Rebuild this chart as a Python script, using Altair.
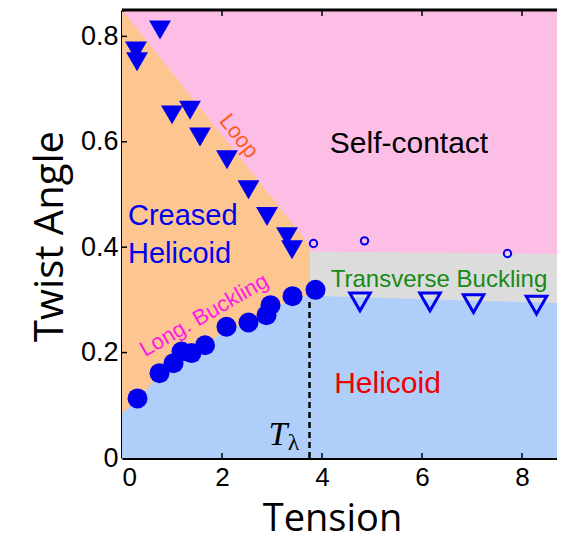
import altair as alt
import pandas as pd

# ---------------- data ----------------
# filled down-triangles
tri_x = [0.76, 0.28, 0.30, 1.00, 1.36, 1.56, 2.10, 2.53, 2.90, 3.30, 3.40]
tri_y = [0.812, 0.772, 0.752, 0.651, 0.660, 0.609, 0.566, 0.509, 0.458, 0.420, 0.395]
# filled circles
circ_x = [0.31, 0.75, 1.03, 1.19, 1.39, 1.66, 2.09, 2.53, 2.89, 2.97, 3.41, 3.87]
circ_y = [0.113, 0.161, 0.180, 0.202, 0.199, 0.214, 0.249, 0.257, 0.271, 0.290, 0.307, 0.319]
# open down-triangles
otri_x = [4.76, 6.16, 7.03, 8.29]
otri_y = [0.296, 0.296, 0.293, 0.290]
# open small circles
ocirc_x = [3.83, 4.85, 7.71]
ocirc_y = [0.407, 0.412, 0.388]

X_MAX = 8.7
Y_MAX = 0.85

# phase-region boundaries
orange_x = [0.0, 3.58, 3.76]
orange_top = [0.85, 0.425, 0.400]
gray_x = [3.76, X_MAX]
gray_top = [0.392, 0.387]
blue_x = [0.0, 0.31, 0.75, 1.19, 1.66, 2.09, 2.53, 2.95, 3.41, 3.76, X_MAX]
blue_top = [0.085, 0.110, 0.158, 0.195, 0.212, 0.245, 0.255, 0.278, 0.303, 0.308, 0.294]

t_lambda = 3.75
t_lambda_top = 0.30

x_ticks = [0, 2, 4, 6, 8]
y_ticks = [0, 0.2, 0.4, 0.6, 0.8]

W, H = 435, 448
BLUE = "#0000ee"

xs = alt.Scale(domain=[0, X_MAX], nice=False, zero=False)
ys = alt.Scale(domain=[0, Y_MAX], nice=False, zero=False)

x_axis = alt.Axis(values=x_ticks, format="d", labelFont="Liberation Sans", labelFontSize=26,
                  labelColor="black", labelPadding=6, ticks=False, grid=False,
                  domainColor="black", domainWidth=3, title="Tension", titleFont="Open Sans",
                  titleFontSize=38, titleFontWeight="normal", titleColor="black",
                  titleX=210, titleY=72, titleBaseline="alphabetic", titleAlign="center")
y_axis = alt.Axis(values=y_ticks, labelExpr="datum.value == 0 ? '0' : format(datum.value, '.1f')",
                  labelFont="Liberation Sans", labelFontSize=27, labelColor="black",
                  labelPadding=4, ticks=False, grid=False, domainColor="black", domainWidth=3,
                  title="Twist Angle", titleFont="Open Sans", titleFontSize=40,
                  titleFontWeight="normal", titleColor="black", titleAngle=270,
                  titleX=-60, titleY=226, titleBaseline="alphabetic", titleAlign="center")

X = alt.X("x:Q", scale=xs, axis=x_axis)
Y = alt.Y("y:Q", scale=ys, axis=y_axis)


def area(xv, yv, color):
    df = pd.DataFrame({"x": xv, "y": yv})
    return alt.Chart(df).mark_area(color=color, opacity=1, interpolate="linear").encode(
        x=X, y=Y, y2=alt.datum(0))


orange = area(orange_x, orange_top, "#fdc590")
gray = area(gray_x, gray_top, "#dcdcdc")
blue = area(blue_x, blue_top, "#afcefa")

dash = alt.Chart(pd.DataFrame({"x": [t_lambda], "y": [0.0], "y2": [t_lambda_top]})).mark_rule(
    color="black", strokeWidth=2.5, strokeDash=[6, 4]).encode(x=X, y=Y, y2="y2:Q")


def pts(xv, yv, shape, size, filled, sw=0):
    df = pd.DataFrame({"x": xv, "y": yv})
    if filled:
        m = alt.Chart(df).mark_point(shape=shape, size=size, filled=True, color=BLUE, opacity=1)
    else:
        m = alt.Chart(df).mark_point(shape=shape, size=size, filled=False, color=BLUE,
                                     strokeWidth=sw, opacity=1)
    return m.encode(x=X, y=Y)


tri = pts(tri_x, tri_y, "triangle-down", 480, True)
circ = pts(circ_x, circ_y, "circle", 400, True)
otri = pts(otri_x, otri_y, "triangle-down", 420, False, 3)
ocirc = pts(ocirc_x, ocirc_y, "circle", 55, False, 2)


def label(txt, x, y, size, color, align="center", baseline="alphabetic", angle=0,
          font="Liberation Sans", style="normal"):
    df = pd.DataFrame({"x": [x], "y": [y], "t": [txt]})
    kw = dict(fontSize=size, color=color, align=align, baseline=baseline, font=font,
              fontStyle=style)
    if angle:
        kw["angle"] = angle
    return alt.Chart(df).mark_text(**kw).encode(x=X, y=Y, text="t:N")


texts = [
    label("Self-contact", 5.74, 0.579, 30, "black"),
    label("Creased", 0.12, 0.442, 29, BLUE, align="left"),
    label("Helicoid", 0.12, 0.370, 29, BLUE, align="left"),
    label("Helicoid", 5.31, 0.123, 30, "#ee0000"),
    label("Transverse Buckling", 6.34, 0.3245, 24, "#168a16"),
    label("Loop", 2.34, 0.611, 22, "#ff5a1e", baseline="middle", angle=52),
    label("Long. Buckling", 1.64, 0.271, 22, "#ff1ae6", baseline="middle", angle=330),
    label("T", 3.12, 0.025, 34, "black", font="Liberation Serif", style="italic"),
    label("λ", 3.43, 0.015, 24, "black", font="Liberation Serif"),
]

# frame: top border and inward ticks
top_line = alt.Chart(pd.DataFrame({"a": [0]})).mark_rule(color="black", strokeWidth=3).encode(
    x=alt.value(0), x2=alt.value(W), y=alt.value(0))
xt = pd.DataFrame({"x": x_ticks[1:]})
yt = pd.DataFrame({"y": y_ticks[1:]})
bottom_ticks = alt.Chart(xt).mark_rule(color="black", strokeWidth=1.5).encode(
    x=X, y=alt.value(H), y2=alt.value(H - 5))
top_ticks = alt.Chart(xt).mark_rule(color="black", strokeWidth=1.5).encode(
    x=X, y=alt.value(0), y2=alt.value(6))
left_ticks = alt.Chart(yt).mark_rule(color="black", strokeWidth=1.5).encode(
    y=Y, x=alt.value(0), x2=alt.value(5))

chart = alt.layer(
    orange, gray, blue, dash, tri, circ, otri, ocirc, *texts,
    top_line, bottom_ticks, top_ticks, left_ticks,
).properties(
    width=W, height=H,
    padding={"left": 114, "top": 2, "right": 0, "bottom": 75},
    autosize=alt.AutoSizeParams(type="none"),
    background="white",
).configure_view(fill="#fdbee6", stroke="transparent")

chart.save("out.html", embed_options={"renderer": "svg", "actions": False})
